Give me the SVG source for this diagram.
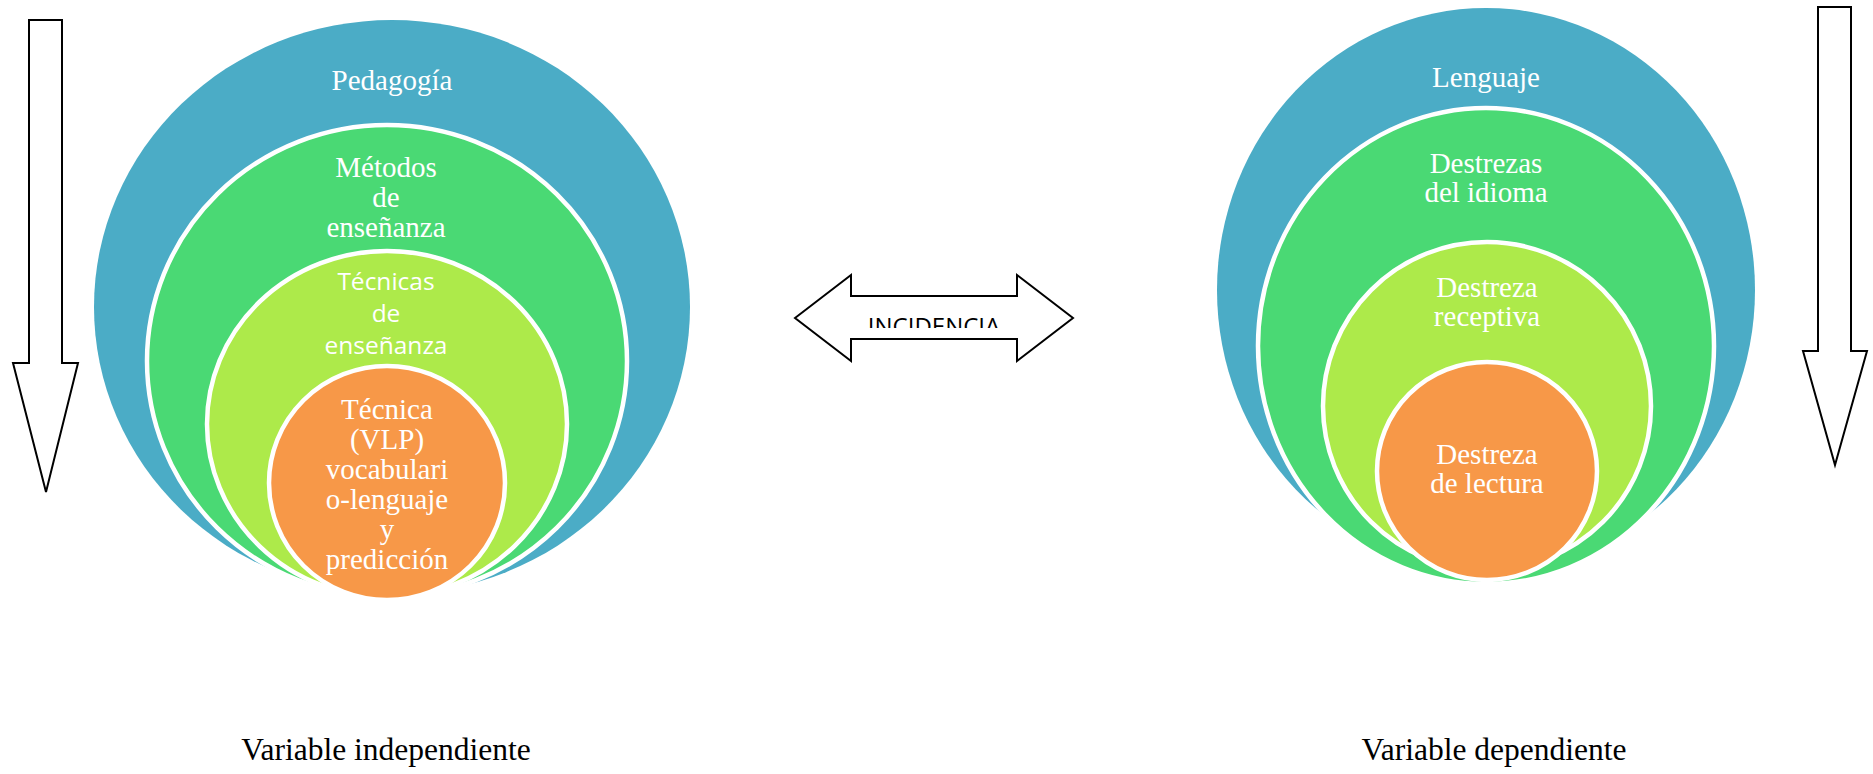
<svg xmlns="http://www.w3.org/2000/svg" width="1873" height="774" viewBox="0 0 1873 774">
<defs>
<style>
.blue{fill:#4BACC6;}
.green{fill:#4AD974;stroke:#FFFFFF;stroke-width:4.5;}
.lime{fill:#ADEA4A;stroke:#FFFFFF;stroke-width:4.5;}
.orange{fill:#F79848;stroke:#FFFFFF;stroke-width:4.5;}
.serif{font-family:"Liberation Serif","Times New Roman",serif;font-size:29px;fill:#FFFFFF;text-anchor:middle;}
.sans{font-family:"Open Sans","Liberation Sans",sans-serif;font-size:24.5px;fill:#FFFFFF;text-anchor:middle;}
.outline{fill:#FFFFFF;stroke:#000000;stroke-width:2;stroke-linejoin:miter;}
.label{font-family:"Liberation Serif","Times New Roman",serif;font-size:31.5px;fill:#000000;text-anchor:middle;}
</style>
<clipPath id="incClip"><rect x="855" y="296" width="160" height="32"/></clipPath>
</defs>
<rect x="0" y="0" width="1873" height="774" fill="#FFFFFF"/>

<g id="connectors">
<polygon id="arrow-left-down" class="outline" points="29,20 62,20 62,363 78,363 46,492 13,363 29,363"/>
<polygon id="arrow-right-down" class="outline" points="1818,7 1851,7 1851,351 1867,351 1835,465 1803,351 1818,351"/>
<g id="arrow-incidencia">
<polygon class="outline" points="795,318 851,275 851,296 1017,296 1017,275 1073,318 1017,361 1017,339 851,339 851,361"/>
<text x="934" y="335" clip-path="url(#incClip)" style="font-family:'Open Sans','Liberation Sans',sans-serif;font-size:24px;fill:#000000;text-anchor:middle;">INCIDENCIA</text>
</g>
</g>

<g id="left-diagram">
<g id="pedagogia">
<ellipse class="blue" cx="392" cy="307" rx="298" ry="287"/>
<text class="serif" x="392" y="90">Pedagogía</text>
</g>
<g id="metodos">
<ellipse class="green" cx="387" cy="361" rx="240" ry="236"/>
<text class="serif" x="386" y="177">Métodos</text>
<text class="serif" x="386" y="207">de</text>
<text class="serif" x="386" y="237">enseñanza</text>
</g>
<g id="tecnicas">
<ellipse class="lime" cx="387" cy="424" rx="180" ry="173"/>
<text class="sans" x="386" y="290">Técnicas</text>
<text class="sans" x="386" y="322">de</text>
<text class="sans" x="386" y="354">enseñanza</text>
</g>
<g id="tecnica-vlp">
<ellipse class="orange" cx="387" cy="483" rx="118" ry="117"/>
<text class="serif" x="387" y="419">Técnica</text>
<text class="serif" x="387" y="449">(VLP)</text>
<text class="serif" x="387" y="479">vocabulari</text>
<text class="serif" x="387" y="509">o-lenguaje</text>
<text class="serif" x="387" y="539">y</text>
<text class="serif" x="387" y="569">predicción</text>
</g>
</g>

<g id="right-diagram">
<g id="lenguaje">
<ellipse class="blue" cx="1486" cy="290" rx="269" ry="282"/>
<text class="serif" x="1486" y="87">Lenguaje</text>
</g>
<g id="destrezas-idioma">
<ellipse class="green" cx="1486" cy="346" rx="228" ry="238"/>
<text class="serif" x="1486" y="173">Destrezas</text>
<text class="serif" x="1486" y="202">del idioma</text>
</g>
<g id="destreza-receptiva">
<ellipse class="lime" cx="1487" cy="406" rx="164" ry="164"/>
<text class="serif" x="1487" y="297">Destreza</text>
<text class="serif" x="1487" y="326">receptiva</text>
</g>
<g id="destreza-lectura">
<ellipse class="orange" cx="1487" cy="471" rx="110" ry="109"/>
<text class="serif" x="1487" y="464">Destreza</text>
<text class="serif" x="1487" y="493">de lectura</text>
</g>
</g>

<g id="labels">
<text class="label" x="386" y="760">Variable independiente</text>
<text class="label" x="1494" y="760">Variable dependiente</text>
</g>
</svg>
